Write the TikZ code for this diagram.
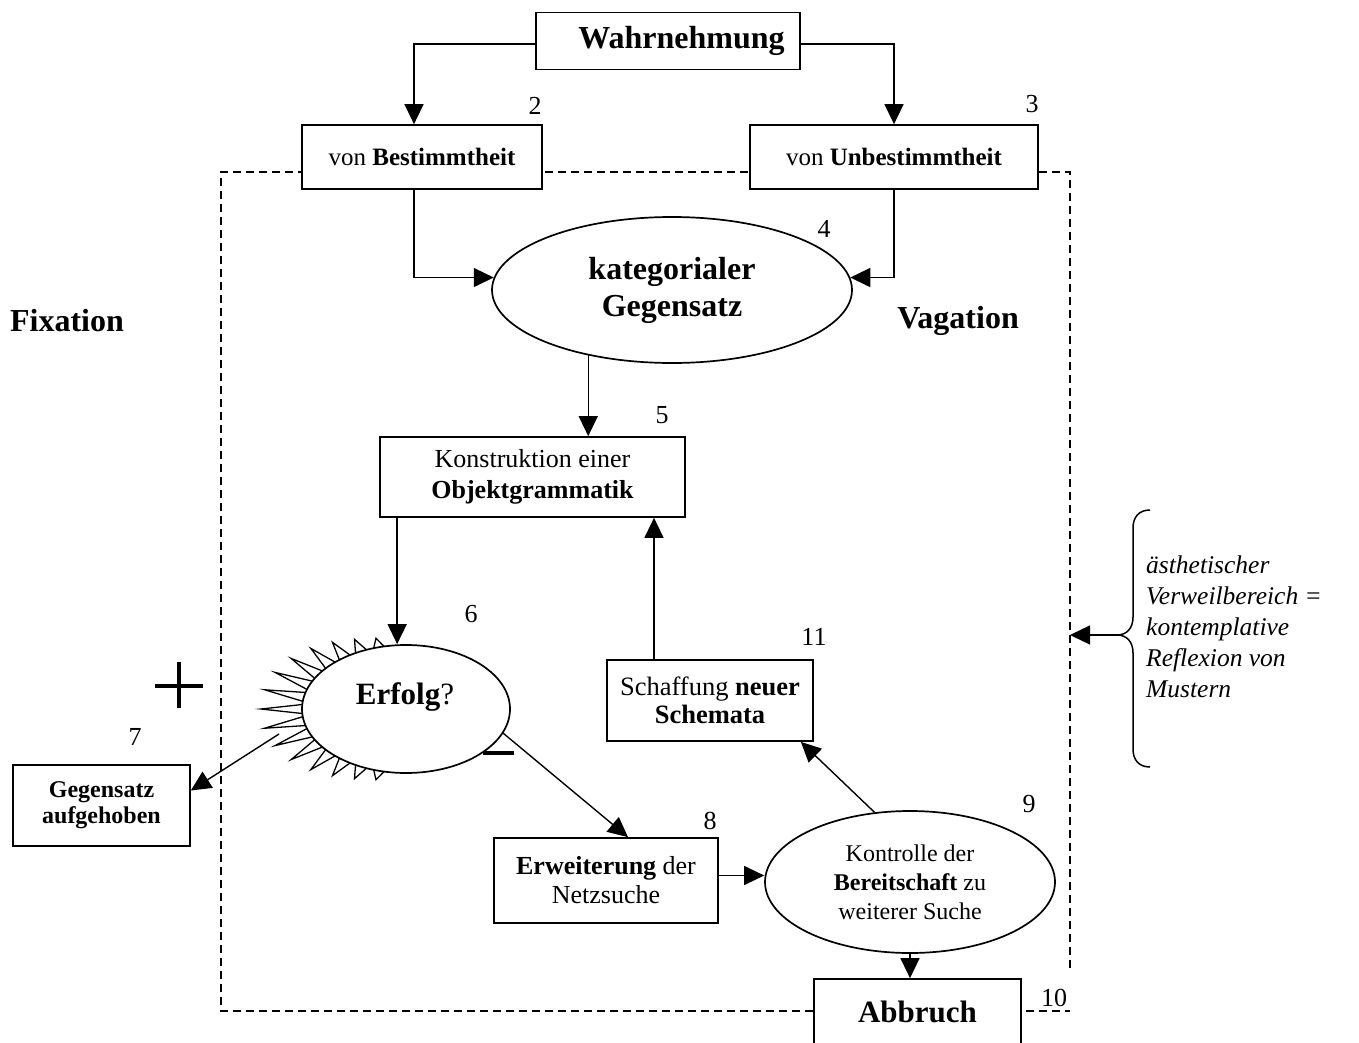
\documentclass[tikz,border=0pt]{standalone}
\usepackage{fontspec}
\setmainfont{Liberation Serif}
\usetikzlibrary{arrows.meta,shapes.geometric}

\begin{document}
\begin{tikzpicture}[x=1pt,y=-1pt,
  box/.style={draw, rectangle, fill=white, inner sep=0pt, align=center, line width=1.7pt},
  oval/.style={draw, ellipse, fill=white, inner sep=0pt, align=center, line width=1.7pt},
  conn/.style={line width=1.4pt, -{Triangle[length=20pt,width=19pt]}},
  plain/.style={line width=1.5pt},
  zone/.style={line width=1.4pt, dash pattern=on 8pt off 5pt},
  sign/.style={line width=3.2pt},
  spikes/.style={line width=1.3pt, fill=white, line join=miter},
  num/.style={inner sep=0pt, font=\fontsize{26}{30}\selectfont},
  f32/.style={font=\fontsize{32}{37}\selectfont},
  f31/.style={font=\fontsize{31}{36}\selectfont},
  f25/.style={font=\fontsize{25}{29}\selectfont},
  f26/.style={font=\fontsize{26}{31}\selectfont},
  fE/.style={font=\fontsize{26}{29}\selectfont},
  fS/.style={font=\fontsize{26.5}{28}\selectfont},
  fG/.style={font=\fontsize{24}{26}\selectfont},
  fK/.style={font=\fontsize{24}{29}\selectfont},
  note/.style={inner sep=0pt, anchor=west, align=left, font=\fontsize{25.5}{31}\selectfont\itshape}
]
\useasboundingbox (0,0) rectangle (1359,1043);

% dashed region of the search process
\coordinate (dA) at (1070,968);
\coordinate (dB) at (1070,172);
\coordinate (dC) at (221,172);
\coordinate (dD) at (221,1011);
\coordinate (dE) at (1070,1011);
\draw[zone] (dA) -- (dB) -- (dC) -- (dD) -- (dE);

% top part
\node[box, minimum width=264pt, minimum height=57pt, f32] (wahr) at (668,41) {\hspace*{27pt}\textbf{Wahrnehmung}};
\node[box, minimum width=240pt, minimum height=64pt, f25] (bes) at (422,157) {von \textbf{Bestimmtheit}};
\node[box, minimum width=288pt, minimum height=64pt, f25] (unb) at (894,157) {von \textbf{Unbestimmtheit}};
\node[oval, minimum width=360pt, minimum height=146pt, f32] (kat) at (672,290) {\textbf{kategorialer}\\\textbf{Gegensatz}};
\node[box, minimum width=305pt, minimum height=80pt, f26] (konst) at (532.5,477) {Konstruktion einer\\\textbf{Objektgrammatik}};

% starburst around the success check
\draw[spikes] ({406+96*cos(100)},{709-58*sin(100)})
  \foreach \i [evaluate=\i as \m using 100+(\i+0.5)*160/15,
               evaluate=\i as \b using 100+(\i+1)*160/15] in {0,...,14} {
    -- ({406+(104+7+34*pow(cos(\m),2))*cos(\m)},{709-(64+7+34*pow(cos(\m),2))*sin(\m)})
    -- ({406+96*cos(\b)},{709-58*sin(\b)})
  } -- cycle;
\node[oval, minimum width=208pt, minimum height=128pt] (erf) at (406,709) {};
\node[f31, inner sep=0pt] (erfT) at (405,697) {\textbf{Erfolg}?};
\coordinate (erfA) at (279,734);

% lower part
\node[box, minimum width=177pt, minimum height=81pt, fG] (gegen) at (101.5,805.5) {\textbf{Gegensatz}\\\textbf{aufgehoben}};
\node[box, minimum width=224pt, minimum height=85pt, fE] (erw) at (606,880.5) {\textbf{Erweiterung} der\\Netzsuche};
\node[oval, minimum width=290pt, minimum height=142pt, fK] (kon) at (910,882) {Kontrolle der\\\textbf{Bereitschaft} zu\\weiterer Suche};
\node[box, minimum width=206pt, minimum height=81pt, fS] (schaf) at (710,700.5) {Schaffung \textbf{neuer}\\\textbf{Schemata}};
\node[box, minimum width=207pt, minimum height=66pt, f31] (abb) at (917.5,1012) {\textbf{Abbruch}};

% side labels
\node[f32, inner sep=0pt] (fix) at (67,321) {\textbf{Fixation}};
\node[f32, inner sep=0pt] (vag) at (958,321) {\textbf{Vagation}};

% step numbers
\node[num] (n2) at (535,106) {2};
\node[num] (n3) at (1032,104) {3};
\node[num] (n4) at (824,229) {4};
\node[num] (n5) at (662,415) {5};
\node[num] (n6) at (471,614) {6};
\node[num] (n7) at (135,737) {7};
\node[num] (n8) at (710,821) {8};
\node[num] (n9) at (1029,804) {9};
\node[num] (n10) at (1054,998) {10};
\node[num] (n11) at (814,637) {11};

% plus and minus signs
\draw[sign] (155,686) -- (203,686);
\draw[sign] (179,662) -- (179,708);
\draw[sign] (483,753) -- (514,753);

% brace with the contemplative note
\coordinate (brtip) at (1117,635);
\coordinate (dashR) at (1070,635);
\draw[plain] (1150,510) .. controls (1139,510) and (1133,517) .. (1133,528)
  -- (1133,617) .. controls (1133,628) and (1127,635) .. (brtip)
  .. controls (1127,635) and (1133,642) .. (1133,653)
  -- (1133,749) .. controls (1133,760) and (1139,767) .. (1150,767);
\node[note] (txt) at (1146,627) {ästhetischer\\Verweilbereich =\\kontemplative\\Reflexion von\\Mustern};

% connectors
\draw[conn] ([yshift=-3pt]wahr.west) -| ([xshift=-8pt]bes.north);
\draw[conn] ([yshift=-3pt]wahr.east) -| (unb.north);
\draw[conn] ([xshift=-8pt]bes.south) |- (kat.176);
\draw[conn] (unb.south) |- (kat.4);
\draw[conn] (kat.218) -- (kat.218 |- konst.north);
\draw[conn] ([xshift=18pt]konst.south west) -- ([xshift=18pt]konst.south west |- erf.north);
\draw[conn] (erfA) -- ([yshift=15pt]gegen.east);
\draw[conn] (erf.-14) -- ([xshift=22pt]erw.north);
\draw[conn] ([yshift=5pt]erw.east) -- ([yshift=5pt]erw.east -| kon.west);
\draw[conn] (kon.117) -- ([xshift=-13pt]schaf.south east);
\draw[conn] (kon.south) -- (kon.south |- abb.north);
\draw[conn] ([xshift=-56pt]schaf.north) -- ([xshift=-56pt]schaf.north |- konst.south);
\draw[conn] (brtip) -- (dashR);
\end{tikzpicture}
\end{document}
